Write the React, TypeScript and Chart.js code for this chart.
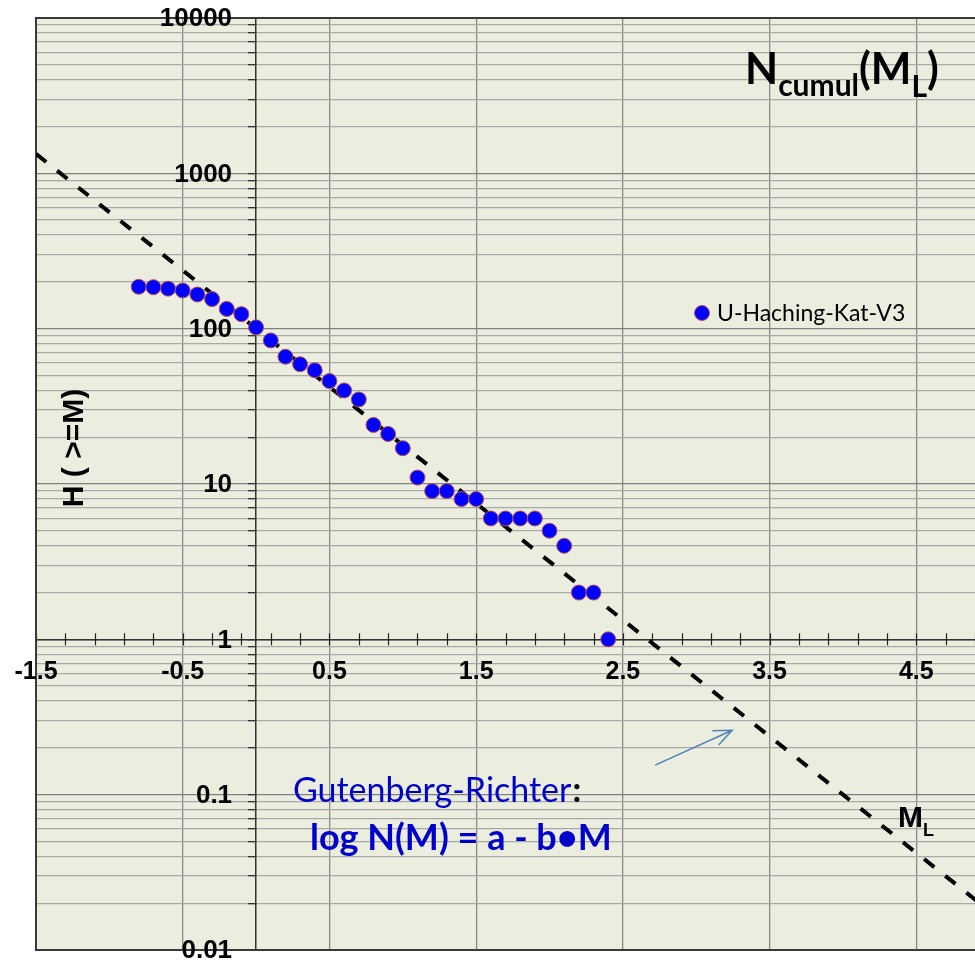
import React, { useEffect, useRef } from 'react';
import { Chart, registerables } from 'chart.js';

Chart.register(...registerables);

// ---- data ----
const magnitudes = [
  -0.8, -0.7, -0.6, -0.5, -0.4, -0.3, -0.2, -0.1, 0.0, 0.1, 0.2, 0.3, 0.4, 0.5, 0.6, 0.7,
  0.8, 0.9, 1.0, 1.1, 1.2, 1.3, 1.4, 1.5, 1.6, 1.7, 1.8, 1.9, 2.0, 2.1, 2.2, 2.3, 2.4,
];
const cumulativeCounts = [
  186, 185, 181, 176, 166, 155, 134, 124, 102, 84, 66, 59, 54, 46, 40, 35,
  24, 21, 17, 11, 9, 9, 8, 8, 6, 6, 6, 6, 5, 4, 2, 2, 1,
];
const fitLineX = [-1.5, 5.0];
const fitLineY = [1334, 0.0178];
const arrowFrom = [2.72, 0.155];
const arrowTo = [3.245, 0.26];
const xTickLabels = ['-1.5', '-0.5', '0.5', '1.5', '2.5', '3.5', '4.5'];
const yTickLabels = ['0.01', '0.1', '1', '10', '100', '1000', '10000'];
const seriesName = 'U-Haching-Kat-V3';

const PLOT_BG = '#EBEEDE';
const ARIAL = '"Liberation Sans", Arial, sans-serif';
const CAL = 'Lato, "Open Sans", sans-serif';

const overlay = {
  id: 'overlay',
  beforeDraw(chart: any) {
    const { ctx, chartArea: a } = chart;
    ctx.save();
    ctx.fillStyle = '#ffffff';
    ctx.fillRect(0, 0, chart.width, chart.height);
    ctx.fillStyle = PLOT_BG;
    ctx.fillRect(a.left, a.top, a.right - a.left, a.bottom - a.top);
    ctx.restore();
  },
  beforeDatasetsDraw(chart: any) {
    const { ctx, chartArea: a } = chart;
    const xs = chart.scales.x;
    const ys = chart.scales.y;
    const yAxis = ys.getPixelForValue(1);
    ctx.save();
    // cross tick marks on the x axis every 0.2
    ctx.strokeStyle = '#222';
    ctx.lineWidth = 1.2;
    for (let k = 0; k <= 32; k++) {
      const v = -1.5 + 0.2 * k;
      const px = Math.round(xs.getPixelForValue(v)) + 0.5;
      ctx.beginPath();
      ctx.moveTo(px, yAxis - 6);
      ctx.lineTo(px, yAxis + 6);
      ctx.stroke();
    }
    // plot border
    ctx.strokeStyle = '#3a3a3a';
    ctx.lineWidth = 2;
    ctx.beginPath();
    ctx.moveTo(a.right + 5, a.top);
    ctx.lineTo(a.left, a.top);
    ctx.lineTo(a.left, a.bottom);
    ctx.lineTo(a.right + 5, a.bottom);
    ctx.stroke();
    ctx.restore();
  },
  afterDraw(chart: any) {
    const { ctx } = chart;
    const xs = chart.scales.x;
    const ys = chart.scales.y;
    ctx.save();

    // axis tick labels (axes cross at x = 0, y = 1)
    const axisX = xs.getPixelForValue(0);
    const axisY = ys.getPixelForValue(1);
    ctx.fillStyle = '#000';
    ctx.font = `bold 26px ${ARIAL}`;
    ctx.textAlign = 'right';
    ctx.textBaseline = 'middle';
    for (const l of yTickLabels) {
      ctx.fillText(l, axisX - 24, ys.getPixelForValue(Number(l)) + 1);
    }
    ctx.font = `bold 25px ${ARIAL}`;
    ctx.textAlign = 'center';
    for (const l of xTickLabels) {
      ctx.fillText(l, xs.getPixelForValue(Number(l)), axisY + 33);
    }

    // title N_cumul(M_L)
    ctx.textBaseline = 'alphabetic';
    ctx.textAlign = 'left';
    const big = `bold 43px ${CAL}`;
    const sub = `bold 30px ${CAL}`;
    let x = 745;
    const parts: [string, string, number][] = [
      ['N', big, 84], ['cumul', sub, 96], ['(M', big, 84], ['L', sub, 97], [')', big, 84],
    ];
    for (const [t, f, b] of parts) {
      ctx.font = f;
      ctx.fillText(t, x, b);
      x += ctx.measureText(t).width;
    }

    // legend
    const ds = chart.data.datasets[0];
    ctx.beginPath();
    ctx.arc(702, 313, 7.5, 0, Math.PI * 2);
    ctx.fillStyle = ds.backgroundColor;
    ctx.fill();
    ctx.lineWidth = 1;
    ctx.strokeStyle = ds.borderColor;
    ctx.stroke();
    ctx.fillStyle = '#000';
    ctx.font = `23px ${CAL}`;
    ctx.fillText(seriesName, 717, 321);

    // y axis title
    ctx.save();
    ctx.translate(75, 448);
    ctx.rotate(-Math.PI / 2);
    ctx.textAlign = 'center';
    ctx.textBaseline = 'middle';
    ctx.font = `bold 30px ${ARIAL}`;
    ctx.fillText('H ( >=M)', 0, 0);
    ctx.restore();

    // M_L label
    ctx.font = `bold 30px ${ARIAL}`;
    ctx.fillText('M', 898, 827);
    const mw = ctx.measureText('M').width;
    ctx.font = `bold 18px ${ARIAL}`;
    ctx.fillText('L', 898 + mw, 836);

    // Gutenberg-Richter text
    ctx.fillStyle = '#0000CC';
    ctx.font = `34px ${CAL}`;
    ctx.fillText('Gutenberg-Richter', 293, 802);
    const gw = ctx.measureText('Gutenberg-Richter').width;
    ctx.fillStyle = '#000';
    ctx.font = `bold 34px ${CAL}`;
    ctx.fillText(':', 293 + gw + 1, 802);
    ctx.fillStyle = '#0000CC';
    ctx.font = `bold 36px ${CAL}`;
    ctx.fillText('log N(M) = a - b\u2022M', 310, 850);

    // arrow
    const x1 = xs.getPixelForValue(arrowFrom[0]);
    const y1 = ys.getPixelForValue(arrowFrom[1]);
    const x2 = xs.getPixelForValue(arrowTo[0]);
    const y2 = ys.getPixelForValue(arrowTo[1]);
    ctx.strokeStyle = '#4F81BD';
    ctx.lineWidth = 1.5;
    ctx.beginPath();
    ctx.moveTo(x1, y1);
    ctx.lineTo(x2, y2);
    const ang = Math.atan2(y2 - y1, x2 - x1);
    const hl = 20;
    ctx.moveTo(x2 - hl * Math.cos(ang - 0.4), y2 - hl * Math.sin(ang - 0.4));
    ctx.lineTo(x2, y2);
    ctx.lineTo(x2 - hl * Math.cos(ang + 0.4), y2 - hl * Math.sin(ang + 0.4));
    ctx.stroke();

    ctx.restore();
  },
};

export default function App() {
  const ref = useRef<HTMLCanvasElement>(null);

  useEffect(() => {
    document.body.style.margin = '0';
    const chart = new Chart(ref.current as HTMLCanvasElement, {
      type: 'scatter',
      data: {
        datasets: [
          {
            label: seriesName,
            data: magnitudes.map((m, i) => ({ x: m, y: cumulativeCounts[i] })),
            backgroundColor: '#0000FF',
            borderColor: '#C0504D',
            borderWidth: 1,
            pointRadius: 7.5,
            pointHoverRadius: 7.5,
            showLine: false,
          },
          {
            label: 'Gutenberg-Richter',
            type: 'line',
            data: fitLineX.map((x, i) => ({ x, y: fitLineY[i] })),
            borderColor: '#000000',
            borderWidth: 4,
            borderDash: [13, 14],
            pointRadius: 0,
            fill: false,
            tension: 0,
          } as any,
        ],
      },
      options: {
        animation: false,
        responsive: false,
        maintainAspectRatio: false,
        devicePixelRatio: 1,
        layout: { autoPadding: false, padding: { left: 36, top: 18, right: 0, bottom: 10 } } as any,
        plugins: { legend: { display: false }, tooltip: { enabled: false }, title: { display: false } },
        scales: {
          x: {
            type: 'linear',
            min: -1.5,
            max: 4.9,
            position: { y: 1 } as any,
            afterBuildTicks: (s: any) => {
              s.ticks = xTickLabels.map((l) => ({ value: Number(l) }));
            },
            ticks: { display: false },
            grid: {
              color: '#8a8a8a',
              lineWidth: 1.3,
              drawTicks: false,
            },
            border: { display: true, color: '#333333', width: 1.5 },
          },
          y: {
            type: 'logarithmic',
            min: 0.01,
            max: 10000,
            position: { x: 0 } as any,
            afterBuildTicks: (s: any) => {
              const t: any[] = [];
              for (let d = 0; d < yTickLabels.length; d++) {
                const base = Number(yTickLabels[d]);
                t.push({ value: base, major: true });
                if (d < yTickLabels.length - 1) {
                  for (let m = 2; m <= 9; m++) t.push({ value: base * m, major: false });
                }
              }
              s.ticks = t;
            },
            ticks: { display: false },
            grid: {
              color: (c: any) => (c.tick && c.tick.major ? '#808080' : '#a9a9a9'),
              lineWidth: 1.3,
              drawTicks: true,
              tickLength: 7,
              tickColor: '#333333',
            },
            border: { display: true, color: '#333333', width: 1.5 },
          },
        },
      },
      plugins: [overlay],
    });
    return () => chart.destroy();
  }, []);

  return (
    <div style={{ position: 'absolute', left: 0, top: 0, width: 975, height: 960, background: '#fff' }}>
      <canvas ref={ref} width={975} height={960} style={{ display: 'block', width: 975, height: 960 }} />
    </div>
  );
}
